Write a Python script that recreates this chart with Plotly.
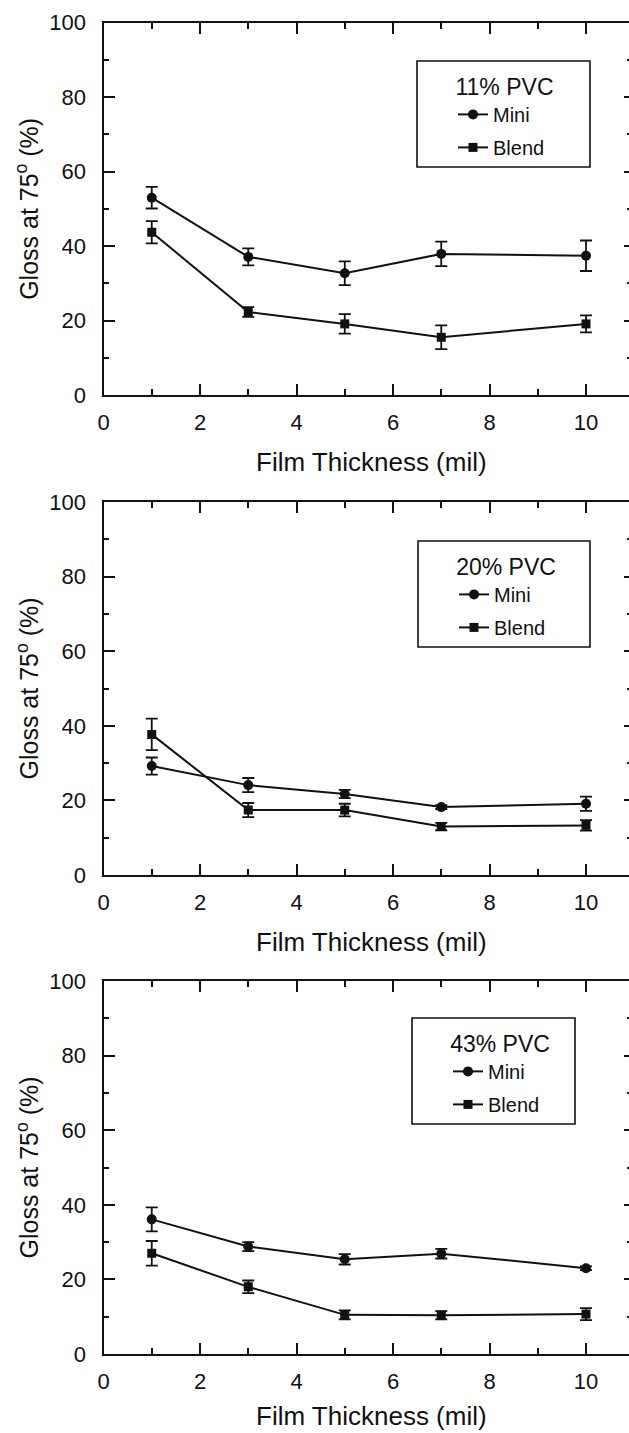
import plotly.graph_objects as go

# Film thickness (mil) at which gloss was measured
thickness = [1, 3, 5, 7, 10]

# Panel labels (pigment volume concentration)
pvc_labels = ["11% PVC", "20% PVC", "43% PVC"]

# Gloss at 75 degrees (%) and standard deviations
mini_11 = [53.0, 37.1, 32.7, 37.9, 37.4]
mini_11_err = [2.9, 2.3, 3.2, 3.3, 4.1]
blend_11 = [43.7, 22.3, 19.1, 15.5, 19.1]
blend_11_err = [3.0, 1.3, 2.6, 3.2, 2.3]

mini_20 = [29.2, 24.1, 21.7, 18.2, 19.1]
mini_20_err = [2.3, 1.9, 1.1, 0.5, 1.9]
blend_20 = [37.7, 17.4, 17.4, 13.0, 13.3]
blend_20_err = [4.2, 1.9, 1.7, 1.0, 1.4]

mini_43 = [36.1, 28.8, 25.4, 26.9, 23.0]
mini_43_err = [3.2, 1.2, 1.4, 1.3, 0.5]
blend_43 = [27.0, 18.0, 10.5, 10.4, 10.7]
blend_43_err = [3.3, 1.7, 1.2, 1.1, 1.6]

x_tick_vals = [0, 2, 4, 6, 8, 10]
y_tick_vals = [0, 20, 40, 60, 80, 100]

W, H = 629, 1433
FONT = "Arial, Liberation Sans, sans-serif"
INK = "#111111"

# plot-area boxes in pixels: (top, bottom)
panel_px = [(22.7, 395.0), (502.0, 875.0), (981.0, 1354.0)]
left_px = 103.5
x_unit_px = 48.25
x_max = (W - left_px) / x_unit_px

# legend frame boxes in pixels: (left, top, right, bottom)
legend_px = [(417, 61, 590, 167), (418, 541, 590, 647), (412, 1018, 575, 1124)]

panels = [
    (mini_11, mini_11_err, blend_11, blend_11_err),
    (mini_20, mini_20_err, blend_20, blend_20_err),
    (mini_43, mini_43_err, blend_43, blend_43_err),
]


def py(p):
    return 1 - p / H


def px(p):
    return p / W


fig = go.Figure()
layout = dict(
    width=W,
    height=H,
    margin=dict(l=0, r=0, t=0, b=0, autoexpand=False),
    paper_bgcolor="white",
    plot_bgcolor="white",
    font=dict(family=FONT, color=INK, size=20),
    showlegend=True,
    shapes=[],
    annotations=[],
)

for i, (mini, mini_err, blend, blend_err) in enumerate(panels):
    n = i + 1
    sfx = "" if n == 1 else str(n)
    xname, yname = f"x{sfx}", f"y{sfx}"
    leg = "legend" if n == 1 else f"legend{n}"
    top, bot = panel_px[i]

    fig.add_trace(go.Scatter(
        x=thickness, y=mini, name="Mini", mode="lines+markers",
        xaxis=xname, yaxis=yname, legend=leg, legendgroup=f"m{n}",
        line=dict(color=INK, width=2),
        marker=dict(symbol="circle", size=10, color=INK),
        error_y=dict(type="data", array=mini_err, color=INK, thickness=1.8, width=6),
    ))
    fig.add_trace(go.Scatter(
        x=thickness, y=blend, name="Blend", mode="lines+markers",
        xaxis=xname, yaxis=yname, legend=leg, legendgroup=f"b{n}",
        line=dict(color=INK, width=2),
        marker=dict(symbol="square", size=9, color=INK),
        error_y=dict(type="data", array=blend_err, color=INK, thickness=1.8, width=6),
    ))
    # empty trace so the right-hand tick axis is drawn
    fig.add_trace(go.Scatter(x=[], y=[], xaxis=xname, yaxis=f"y{n + 3}",
                             showlegend=False, hoverinfo="skip"))

    dom_y = [py(bot), py(top)]
    layout[f"xaxis{sfx}"] = dict(
        domain=[px(left_px), 1], anchor=yname, range=[0, x_max],
        tickmode="array", tickvals=x_tick_vals,
        ticks="inside", ticklen=11, tickwidth=1.6, tickcolor=INK,
        minor=dict(ticks="inside", ticklen=6, tickwidth=1.6, dtick=1, tick0=0, tickcolor=INK),
        showline=True, linewidth=2.2, linecolor=INK, mirror="ticks",
        showgrid=False, zeroline=False,
        tickfont=dict(size=22, family=FONT, color=INK), ticklabelstandoff=6,
    )
    layout[f"yaxis{sfx}"] = dict(
        domain=dom_y, anchor=xname, range=[0, 100],
        tickmode="array", tickvals=y_tick_vals,
        ticks="inside", ticklen=11, tickwidth=1.6, tickcolor=INK,
        minor=dict(ticks="inside", ticklen=5, tickwidth=1.6, dtick=10, tick0=0, tickcolor=INK),
        showline=True, linewidth=2.2, linecolor=INK, mirror=False,
        showgrid=False, zeroline=False,
        tickfont=dict(size=22, family=FONT, color=INK), ticklabelstandoff=11,
    )
    layout[f"yaxis{n + 3}"] = dict(
        overlaying=yname, side="right", anchor=xname, range=[0, 100],
        tickmode="array", tickvals=y_tick_vals,
        ticks="inside", ticklen=5, tickwidth=1.6, tickcolor=INK,
        minor=dict(ticks="inside", ticklen=2, tickwidth=1.6, dtick=10, tick0=0, tickcolor=INK),
        showline=False, showgrid=False, zeroline=False, showticklabels=False,
    )

    # legend with its frame
    l, t, r, b = legend_px[i]
    layout["shapes"].append(dict(
        type="rect", xref="paper", yref="paper",
        x0=px(l), x1=px(r), y0=py(b), y1=py(t),
        line=dict(color=INK, width=1.6), fillcolor="rgba(0,0,0,0)",
    ))
    layout[leg] = dict(
        x=px(l + 36), y=py(t + 4), xanchor="left", yanchor="top",
        bgcolor="rgba(0,0,0,0)", borderwidth=0,
        title=dict(text=pvc_labels[i], side="top center",
                   font=dict(size=23, family=FONT, color=INK)),
        font=dict(size=20, family=FONT, color=INK),
        traceorder="grouped", tracegroupgap=4,
    )

    # axis titles (kept fully inside the page)
    x_title_y = min(bot + 67, H - 17)
    layout["annotations"].append(dict(
        text="Film Thickness (mil)", xref="paper", yref="paper",
        x=px(371), y=py(x_title_y), xanchor="center", yanchor="middle",
        showarrow=False, font=dict(size=26, family=FONT, color=INK),
    ))
    layout["annotations"].append(dict(
        text="Gloss at 75<sup>o</sup> (%)", xref="paper", yref="paper",
        x=px(27), y=py((top + bot) / 2), xanchor="center", yanchor="middle",
        textangle=-90, showarrow=False, font=dict(size=25, family=FONT, color=INK),
    ))

fig.update_layout(**layout)
fig.write_html("out.html")
